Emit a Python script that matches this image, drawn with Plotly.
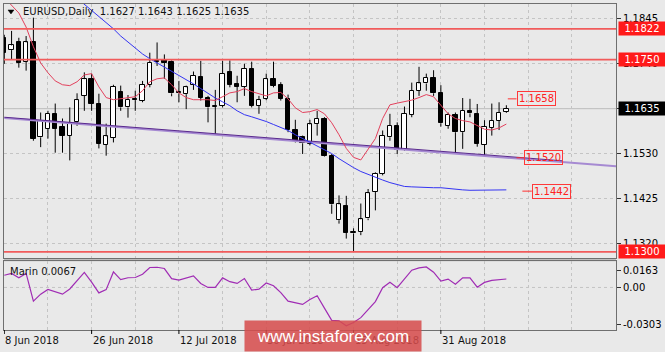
import plotly.graph_objects as go

W, H = 665, 352
ML, MR, MT, MB = 3, 48, 3, 22
PW = W - ML - MR
PH = H - MT - MB


def px(x):
    return (x - ML) / PW


def py(y):
    return (H - MB - y) / PH


# ---------------- data ----------------
bars = list(range(70))
opens = [1.1801, 1.1772, 1.1790, 1.1745, 1.1792, 1.1568, 1.1588, 1.1623, 1.1591, 1.1572,
         1.1603, 1.1665, 1.1704, 1.1646, 1.1551, 1.1567, 1.1675, 1.1638, 1.1657, 1.1654,
         1.1691, 1.1747, 1.1749, 1.1745, 1.1675, 1.1669, 1.1691, 1.1710, 1.1660, 1.1640,
         1.1642, 1.1720, 1.1693, 1.1686, 1.1728, 1.1642, 1.1658, 1.1704, 1.1690, 1.1658,
         1.1585, 1.1568, 1.1553, 1.1599, 1.1611, 1.1525, 1.1374, 1.1408, 1.1343, 1.1346,
         1.1378, 1.1440, 1.1483, 1.1568, 1.1595, 1.1539, 1.1621, 1.1677, 1.1694, 1.1707,
         1.1671, 1.1595, 1.1621, 1.1580, 1.1630, 1.1623, 1.1551, 1.1590, 1.1607, 1.1627]
highs = [1.1808, 1.1817, 1.1801, 1.1805, 1.1848, 1.1626, 1.1630, 1.1647, 1.1612, 1.1638,
         1.1671, 1.1720, 1.1717, 1.1670, 1.1600, 1.1691, 1.1689, 1.1667, 1.1677, 1.1700,
         1.1766, 1.1790, 1.1762, 1.1748, 1.1700, 1.1689, 1.1722, 1.1747, 1.1665, 1.1679,
         1.1747, 1.1748, 1.1712, 1.1740, 1.1745, 1.1665, 1.1717, 1.1745, 1.1697, 1.1668,
         1.1609, 1.1572, 1.1609, 1.1630, 1.1615, 1.1529, 1.1432, 1.1431, 1.1355, 1.1413,
         1.1447, 1.1486, 1.1584, 1.1623, 1.1603, 1.1640, 1.1696, 1.1733, 1.1717, 1.1725,
         1.1690, 1.1626, 1.1626, 1.1660, 1.1658, 1.1646, 1.1608, 1.1647, 1.1650, 1.1643]
lows = [1.1740, 1.1749, 1.1731, 1.1724, 1.1560, 1.1545, 1.1565, 1.1532, 1.1532, 1.1514,
        1.1595, 1.1630, 1.1630, 1.1542, 1.1525, 1.1556, 1.1630, 1.1614, 1.1630, 1.1650,
        1.1685, 1.1735, 1.1705, 1.1664, 1.1650, 1.1634, 1.1679, 1.1654, 1.1603, 1.1576,
        1.1638, 1.1685, 1.1650, 1.1665, 1.1638, 1.1623, 1.1655, 1.1685, 1.1654, 1.1580,
        1.1556, 1.1529, 1.1549, 1.1572, 1.1523, 1.1389, 1.1366, 1.1331, 1.1302, 1.1339,
        1.1374, 1.1397, 1.1479, 1.1560, 1.1529, 1.1537, 1.1615, 1.1665, 1.1677, 1.1665,
        1.1593, 1.1588, 1.1531, 1.1541, 1.1615, 1.1546, 1.1525, 1.1572, 1.1585, 1.1625]
closes = [1.1766, 1.1783, 1.1743, 1.1790, 1.1564, 1.1607, 1.1623, 1.1588, 1.1572, 1.1601,
          1.1655, 1.1704, 1.1646, 1.1553, 1.1570, 1.1686, 1.1638, 1.1656, 1.1655, 1.1691,
          1.1743, 1.1745, 1.1742, 1.1671, 1.1671, 1.1685, 1.1712, 1.1660, 1.1638, 1.1642,
          1.1717, 1.1691, 1.1686, 1.1728, 1.1642, 1.1655, 1.1704, 1.1689, 1.1658, 1.1584,
          1.1560, 1.1554, 1.1598, 1.1611, 1.1525, 1.1411, 1.1411, 1.1344, 1.1346, 1.1376,
          1.1437, 1.1483, 1.1572, 1.1595, 1.1539, 1.1623, 1.1677, 1.1694, 1.1707, 1.1671,
          1.1601, 1.1621, 1.1580, 1.1630, 1.1624, 1.1553, 1.1593, 1.1607, 1.1626, 1.1635]
red_ma = [1.1895, 1.1876, 1.1859, 1.1826, 1.1780, 1.1742, 1.1719, 1.1700, 1.1691, 1.1689,
          1.1698, 1.1714, 1.1717, 1.1686, 1.1661, 1.1656, 1.1658, 1.1661, 1.1663, 1.1677,
          1.1698, 1.1705, 1.1707, 1.1691, 1.1672, 1.1661, 1.1656, 1.1656, 1.1656, 1.1654,
          1.1663, 1.1672, 1.1675, 1.1682, 1.1675, 1.1670, 1.1665, 1.1672, 1.1673, 1.1658,
          1.1637, 1.1626, 1.1628, 1.1633, 1.1623, 1.1602, 1.1574, 1.1542, 1.1521, 1.1515,
          1.1539, 1.1565, 1.1612, 1.1644, 1.1648, 1.1651, 1.1655, 1.1661, 1.1668, 1.1663,
          1.1642, 1.1623, 1.1612, 1.1607, 1.1604, 1.1595, 1.1587, 1.1585, 1.1590, 1.1599]
blue_ma = [1.2048, 1.2032, 1.2015, 1.1999, 1.1983, 1.1966, 1.1950, 1.1936, 1.1922, 1.1908,
           1.1894, 1.1880, 1.1866, 1.1852, 1.1838, 1.1822, 1.1805, 1.1791, 1.1777, 1.1763,
           1.1752, 1.1742, 1.1733, 1.1724, 1.1714, 1.1704, 1.1693, 1.1682, 1.1670, 1.1660,
           1.1651, 1.1642, 1.1630, 1.1621, 1.1616, 1.1611, 1.1605, 1.1598, 1.1591, 1.1584,
           1.1574, 1.1565, 1.1556, 1.1547, 1.1539, 1.1530, 1.1518, 1.1507, 1.1497, 1.1488,
           1.1481, 1.1474, 1.1468, 1.1462, 1.1458, 1.1453, 1.1452, 1.1451, 1.1451, 1.1450,
           1.1450, 1.1448, 1.1447, 1.1445, 1.1444, 1.1444, 1.1444, 1.1444, 1.1444, 1.1445]
osc = [0.0097, 0.0111, 0.0077, 0.0111, -0.0108, -0.0053, -0.0016, -0.0033, -0.0053, -0.0012,
       0.0050, 0.0119, 0.0042, -0.0043, -0.0017, 0.0123, 0.0062, 0.0077, 0.0079, 0.0105,
       0.0158, 0.0160, 0.0150, 0.0070, 0.0058, 0.0073, 0.0092, 0.0032, 0.0000, 0.0000,
       0.0076, 0.0046, 0.0032, 0.0071, -0.0021, -0.0013, 0.0036, 0.0014, -0.0041, -0.0108,
       -0.0120, -0.0134, -0.0096, -0.0066, -0.0164, -0.0261, -0.0264, -0.0303, -0.0278, -0.0239,
       -0.0175, -0.0112, -0.0002, 0.0042, -0.0002, 0.0066, 0.0137, 0.0155, 0.0163, 0.0121,
       0.0050, 0.0066, 0.0026, 0.0077, 0.0076, 0.0002, 0.0040, 0.0056, 0.0061, 0.0067]

date_ticks = [0, 12, 24, 36, 48, 60]
date_labels = ["8 Jun 2018", "26 Jun 2018", "12 Jul 2018", "30 Jul 2018", "15 Aug 2018", "31 Aug 2018"]
price_ticks = [1.1845, 1.1740, 1.1635, 1.1530, 1.1425, 1.1320]
price_tick_text = ["1.1845", "1.1740", "1.1635", "1.1530", "1.1425", "1.1320"]
levels = [1.1822, 1.1750, 1.1300]
level_text = ["1.1822", "1.1750", "1.1300"]
last_price = 1.1635
trend_a_x = [0, 84.1]
trend_a_y = [1.1613, 1.1500]
trend_b_x = [0, 76.7]
trend_b_y = [1.1615, 1.1513]
mark_vals = [1.1658, 1.1520, 1.1442]
mark_text = ["1.1658", "1.1520", "1.1442"]
osc_tick_vals = [0.0131, 0.0, -0.0290]
osc_tick_text = ["0.0163", "0.00", "-0.0303"]
title_text = "EURUSD,Daily  1.1627 1.1643 1.1625 1.1635"
osc_label = "Marin 0.0067"

# ---------------- figure ----------------
BG = "#e9e9e9"
GRID = "#c4c4c4"
FRAME = "#6f6f6f"
FONT = "DejaVu Sans"

fig = go.Figure()

# wicks (split so they do not cross bodies)
wx, wy = [], []
for i, o, h, l, c in zip(bars, opens, highs, lows, closes):
    top, bot = max(o, c), min(o, c)
    wx += [i, i, None, i, i, None]
    wy += [h, top, None, bot, l, None]
fig.add_trace(go.Scatter(x=wx, y=wy, mode="lines", line=dict(color="black", width=1),
                         hoverinfo="skip", showlegend=False, xaxis="x", yaxis="y"))

body_base = [min(o, c) for o, c in zip(opens, closes)]
body_h = [max(abs(c - o), 0.00012) for o, c in zip(opens, closes)]
body_col = ["white" if c >= o else "black" for o, c in zip(opens, closes)]
fig.add_trace(go.Bar(x=bars, y=body_h, base=body_base, width=0.6,
                     marker=dict(color=body_col, line=dict(color="black", width=1)),
                     hoverinfo="skip", showlegend=False, xaxis="x", yaxis="y"))

fig.add_trace(go.Scatter(x=trend_a_x, y=trend_a_y, mode="lines",
                         line=dict(color="#a68ad2", width=2), hoverinfo="skip",
                         showlegend=False, xaxis="x", yaxis="y"))
fig.add_trace(go.Scatter(x=trend_b_x, y=trend_b_y, mode="lines",
                         line=dict(color="#5a2a8e", width=1), hoverinfo="skip",
                         showlegend=False, xaxis="x", yaxis="y"))
fig.add_trace(go.Scatter(x=bars, y=blue_ma, mode="lines",
                         line=dict(color="#3434f2", width=1), hoverinfo="skip",
                         showlegend=False, xaxis="x", yaxis="y"))
fig.add_trace(go.Scatter(x=bars, y=red_ma, mode="lines",
                         line=dict(color="#e2405c", width=1), hoverinfo="skip",
                         showlegend=False, xaxis="x", yaxis="y"))

fig.add_trace(go.Scatter(x=bars, y=osc, mode="lines",
                         line=dict(color="#a02cb4", width=1.2), hoverinfo="skip",
                         showlegend=False, xaxis="x2", yaxis="y2"))

shapes = []
# separator band between panels
shapes.append(dict(type="rect", xref="paper", yref="paper", x0=px(3), x1=px(617),
                   y0=py(261), y1=py(258), fillcolor="#bdbdbd", line=dict(width=0), layer="below"))
# bid line
shapes.append(dict(type="line", xref="x domain", yref="y", x0=0, x1=1, y0=last_price, y1=last_price,
                   line=dict(color="#bcbcbc", width=1), layer="below"))
# horizontal levels
for lv in levels:
    shapes.append(dict(type="line", xref="x domain", yref="y", x0=0, x1=1, y0=lv, y1=lv,
                       line=dict(color="#f15b5b", width=1.8)))
# zero line in oscillator
shapes.append(dict(type="line", xref="x2 domain", yref="y2", x0=0, x1=1, y0=0, y1=0,
                   line=dict(color=GRID, width=1, dash="3px,3px"), layer="below"))
# date tick marks
for t in date_ticks:
    shapes.append(dict(type="line", xref="x2", yref="paper", x0=t, x1=t, y0=py(330), y1=py(334),
                       line=dict(color="black", width=1)))
# label dashes
dash_spans = [(69.2, 70.4), (70.4, 71.4), (71.2, 72.5)]
for (a, b), v in zip(dash_spans, mark_vals):
    shapes.append(dict(type="line", xref="x", yref="y", x0=a, x1=b, y0=v, y1=v,
                       line=dict(color="#ff3030", width=1)))
# small triangle before the title
shapes.append(dict(type="path", xref="paper", yref="paper",
                   path=f"M {px(7)} {py(9)} L {px(13)} {py(9)} L {px(10)} {py(13)} Z",
                   fillcolor="black", line=dict(color="black", width=0.5)))

annotations = []
annotations.append(dict(text=title_text, x=px(20), y=py(11), xref="paper", yref="paper",
                        xanchor="left", yanchor="middle", showarrow=False,
                        font=dict(family=FONT, size=10, color="#111111")))
annotations.append(dict(text=osc_label, x=px(7), y=py(271), xref="paper", yref="paper",
                        xanchor="left", yanchor="middle", showarrow=False,
                        font=dict(family=FONT, size=10, color="#111111")))
for t, lab in zip(date_ticks, date_labels):
    annotations.append(dict(text=lab, x=t, y=py(341), xref="x2", yref="paper",
                            xanchor="left", yanchor="middle", showarrow=False, borderpad=0,
                            font=dict(family=FONT, size=10, color="#111111")))
# right axis colored boxes
for lv, txt in zip(levels, level_text):
    annotations.append(dict(text=txt, x=px(619), y=lv, xref="paper", yref="y",
                            xanchor="left", yanchor="middle", showarrow=False,
                            width=44, height=11, borderpad=1, align="center",
                            bgcolor="#ff1a1a", font=dict(family=FONT, size=10, color="white")))
annotations.append(dict(text="1.1635", x=px(619), y=last_price, xref="paper", yref="y",
                        xanchor="left", yanchor="middle", showarrow=False,
                        width=44, height=11, borderpad=1, align="center",
                        bgcolor="#000000", font=dict(family=FONT, size=10, color="white")))
# price marks with red boxes
box_left = [70.4, 71.4, 72.5]
for xl, v, txt in zip(box_left, mark_vals, mark_text):
    annotations.append(dict(text=txt, x=xl, y=v, xref="x", yref="y",
                            xanchor="left", yanchor="middle", showarrow=False,
                            borderpad=1, borderwidth=1, bordercolor="#ff3838",
                            font=dict(family=FONT, size=10, color="#ff2020")))
# watermark
annotations.append(dict(text="www.instaforex.com", x=px(333), y=py(336), xref="paper", yref="paper",
                        xanchor="center", yanchor="middle", showarrow=False,
                        width=176, height=30, borderpad=0, bgcolor="rgba(214,76,76,0.86)",
                        font=dict(family="Liberation Sans", size=17, color="white")))

xcommon = dict(range=[-0.04, 84.07], tickvals=list(range(0, 85, 6)), showticklabels=False,
               ticks="", showgrid=True, gridcolor=GRID, griddash="3px,3px", gridwidth=1,
               zeroline=False, showline=True, mirror=True, linecolor=FRAME, linewidth=1)

fig.update_layout(
    width=W, height=H,
    margin=dict(l=ML, r=MR, t=MT, b=MB),
    paper_bgcolor=BG, plot_bgcolor=BG,
    font=dict(family=FONT, size=10, color="black"),
    showlegend=False, bargap=0,
    xaxis=dict(domain=[0, 1], anchor="y", **xcommon),
    xaxis2=dict(domain=[0, 1], anchor="y2", matches="x", **xcommon),
    yaxis=dict(domain=[py(258), 1], anchor="x", range=[1.1285, 1.1880], side="right",
               tickmode="array", tickvals=price_ticks, ticktext=price_tick_text,
               ticks="outside", ticklen=4, tickcolor="#333333",
               showgrid=True, gridcolor=GRID, griddash="3px,3px", zeroline=False,
               showline=True, mirror=True, linecolor=FRAME, linewidth=1,
               tickfont=dict(family=FONT, size=10, color="black")),
    yaxis2=dict(domain=[0, py(261)], anchor="x2", range=[-0.0337, 0.0208], side="right",
                tickmode="array", tickvals=osc_tick_vals, ticktext=osc_tick_text,
                ticks="outside", ticklen=4, tickcolor="#333333",
                showgrid=False, zeroline=False,
                showline=True, mirror=True, linecolor=FRAME, linewidth=1,
                tickfont=dict(family=FONT, size=10, color="black")),
    shapes=shapes,
    annotations=annotations,
)

fig.write_html("out.html")
